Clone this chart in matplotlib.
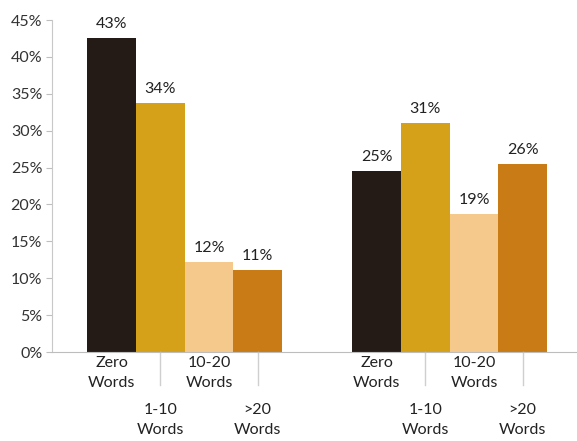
import numpy as np
import matplotlib
matplotlib.use('Agg')
import matplotlib.pyplot as plt
import matplotlib.transforms as mtransforms

plt.rcParams['font.family'] = ['Lato', 'DejaVu Sans']

# data
categories = ['Zero\nWords', '1-10\nWords', '10-20\nWords', '>20\nWords']
group1 = [42.6, 33.8, 12.2, 11.1]
group2 = [24.5, 31.0, 18.7, 25.5]
labels1 = ['43%', '34%', '12%', '11%']
labels2 = ['25%', '31%', '19%', '26%']
colors = ['#251b16', '#d4a118', '#f5c98c', '#c97b15']

fig = plt.figure(figsize=(5.77, 4.41), dpi=100)
ax = fig.add_axes([52/577, 1-352/441, 1-52/577, 332/441])

x1 = np.arange(4)
x2 = x1 + 5.45
ax.bar(x1, group1, width=1.0, color=colors)
ax.bar(x2, group2, width=1.0, color=colors)

for xs, vals, labs in [(x1, group1, labels1), (x2, group2, labels2)]:
    for x, v, l in zip(xs, vals, labs):
        ax.annotate(l, xy=(x, v), xytext=(0, 5), textcoords='offset points',
                    ha='center', va='bottom', fontsize=11.5, color='#222222')

# staggered category labels with small separator lines
trans = mtransforms.blended_transform_factory(ax.transData, ax.transAxes)
for xs in [x1, x2]:
    for i, (x, c) in enumerate(zip(xs, categories)):
        if i % 2 == 0:
            ax.annotate(c, xy=(x, 0), xycoords=trans, xytext=(0, -3),
                        textcoords='offset points', ha='center', va='top',
                        fontsize=11.5, color='#222222', linespacing=1.5)
        else:
            ax.plot([x, x], [0, -0.1], transform=trans, color='#cfcfcf',
                    lw=1, clip_on=False)
            ax.annotate(c, xy=(x, 0), xycoords=trans, xytext=(0, -37),
                        textcoords='offset points', ha='center', va='top',
                        fontsize=11.5, color='#222222', linespacing=1.5)

ax.set_xlim(-1.23, 9.57)
ax.set_ylim(0, 45)
ax.set_yticks(np.arange(0, 46, 5))
ax.set_yticklabels([f'{t}%' for t in range(0, 46, 5)])
ax.set_xticks([])
ax.tick_params(axis='y', length=4, color='#bfbfbf', labelsize=11.5,
               labelcolor='#333333', pad=3)
for s in ['top', 'right']:
    ax.spines[s].set_visible(False)
ax.spines['left'].set_color('#c8c8c8')
ax.spines['bottom'].set_color('#bdbdbd')

fig.savefig('out.png', dpi=100)
